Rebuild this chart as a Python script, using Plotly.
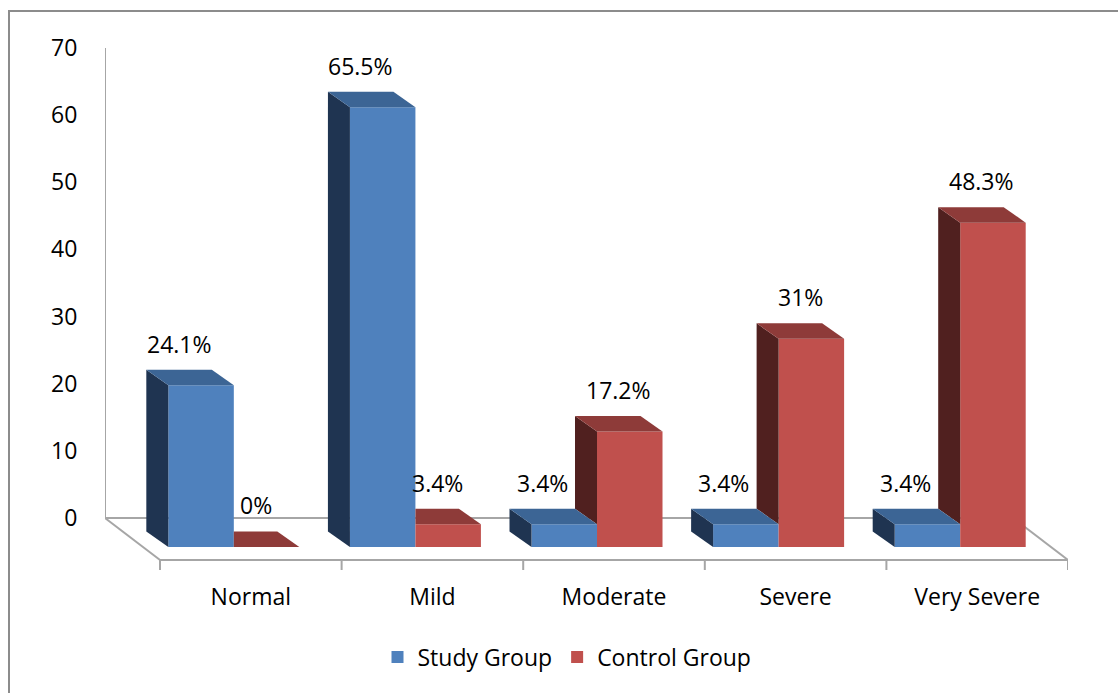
import plotly.graph_objects as go

# ---------------- data ----------------
categories = ["Normal", "Mild", "Moderate", "Severe", "Very Severe"]
study_values = [24.1, 65.5, 3.4, 3.4, 3.4]
control_values = [0, 3.4, 17.2, 31, 48.3]
study_labels = ["24.1%", "65.5%", "3.4%", "3.4%", "3.4%"]
control_labels = ["0%", "3.4%", "17.2%", "31%", "48.3%"]
y_ticks = [0, 10, 20, 30, 40, 50, 60, 70]

# ---------------- layout constants ----------------
W, H = 1118, 693
ML, MR, MT, MB = 105, 50, 48, 123
n = len(categories)
X_MIN, X_MAX = -0.5 - 0.303, n - 0.5
Y_MIN, Y_MAX = -7.75, 70
PX = (W - ML - MR) / (X_MAX - X_MIN)    # px per category unit
PY = (H - MT - MB) / (Y_MAX - Y_MIN)    # px per value unit

FLOOR_FRONT = -42 / PY          # front edge of the floor
FLOOR_DX = -0.303               # back edge shift (category units)
BAR_BASE = -29 / PY             # front face bottom of bars
BAR_W = 65.5 / PX
PAIR_OFF = -17 / PX
DX = -22 / PX                   # depth shift of bar back face
DY = 15.5 / PY
LABEL_GAP = 26 / PY

study_cols = dict(front="#4F81BD", top="#3C6595", side="#1F3451")
control_cols = dict(front="#C0504D", top="#8E3B39", side="#50201F")
GRAY = "#A6A6A6"

FONT = "Open Sans"
FS = 23

fig = go.Figure()


def poly(xs, ys, color):
    fig.add_trace(go.Scatter(
        x=xs + [xs[0]], y=ys + [ys[0]], fill="toself", fillcolor=color,
        mode="lines", line=dict(width=0, color=color),
        showlegend=False, hoverinfo="skip"))


study_x = [i + PAIR_OFF - BAR_W / 2 for i in range(n)]
control_x = [i + PAIR_OFF + BAR_W / 2 for i in range(n)]

# control group (behind the study group where they touch)
for i in range(n):
    x0 = control_x[i] - BAR_W / 2
    x1 = control_x[i] + BAR_W / 2
    hr = BAR_BASE + control_values[i]
    hb = BAR_BASE + study_values[i]
    if hr > hb:
        poly([x0, x0, x0 + DX, x0 + DX], [hb, hr, hr + DY, hb + DY], control_cols["side"])
        poly([x0, x1, x1 + DX, x0 + DX], [hr, hr, hr + DY, hr + DY], control_cols["top"])
    else:
        poly([x0, x1, x1 + DX, x0], [hr, hr, hr + DY, hr + DY], control_cols["top"])

# study group
for i in range(n):
    x0 = study_x[i] - BAR_W / 2
    x1 = study_x[i] + BAR_W / 2
    hb = BAR_BASE + study_values[i]
    poly([x0, x0, x0 + DX, x0 + DX], [BAR_BASE, hb, hb + DY, BAR_BASE + DY], study_cols["side"])
    poly([x0, x1, x1 + DX, x0 + DX], [hb, hb, hb + DY, hb + DY], study_cols["top"])

# front faces
fig.add_trace(go.Bar(x=study_x, y=study_values, base=[BAR_BASE] * n, width=BAR_W,
                     marker=dict(color=study_cols["front"], line=dict(width=0)),
                     name="Study Group", hoverinfo="skip"))
fig.add_trace(go.Bar(x=control_x, y=control_values, base=[BAR_BASE] * n, width=BAR_W,
                     marker=dict(color=control_cols["front"], line=dict(width=0)),
                     name="Control Group", hoverinfo="skip"))

# floor outline, tick marks, y axis line (drawn beneath the bars)
floor_pts = [(X_MIN, 0), (-0.5, FLOOR_FRONT), (n - 0.5, FLOOR_FRONT),
             (n - 0.5 + FLOOR_DX, 0), (X_MIN, 0)]
for (ax, ay), (bx, by) in zip(floor_pts[:-1], floor_pts[1:]):
    fig.add_shape(type="line", x0=ax, y0=ay, x1=bx, y1=by, layer="below",
                  line=dict(color=GRAY, width=2))
for i in range(n + 1):
    fig.add_shape(type="line", x0=i - 0.5, y0=FLOOR_FRONT, x1=i - 0.5, y1=Y_MIN,
                  layer="below", line=dict(color=GRAY, width=2))
fig.add_shape(type="line", x0=X_MIN, y0=0, x1=X_MIN, y1=max(y_ticks),
              layer="below", line=dict(color=GRAY, width=2))

# data labels
for i in range(n):
    fig.add_annotation(x=study_x[i] + DX, y=BAR_BASE + study_values[i] + DY + LABEL_GAP,
                       text=study_labels[i], showarrow=False,
                       font=dict(family=FONT, size=FS, color="#000"))
    fig.add_annotation(x=control_x[i] + DX / 2, y=BAR_BASE + control_values[i] + DY + LABEL_GAP,
                       text=control_labels[i], showarrow=False,
                       font=dict(family=FONT, size=FS, color="#000"))

# outer border (only top & left visible)
fig.add_shape(type="rect", xref="paper", yref="paper",
              x0=(9 - ML) / (W - ML - MR), x1=(W + 20 - ML) / (W - ML - MR),
              y0=-(H + 20 - (H - MB)) / (H - MT - MB),
              y1=((H - MB) - 11) / (H - MT - MB),
              line=dict(color="#8C8C8C", width=2))

fig.update_layout(
    width=W, height=H, autosize=False,
    margin=dict(l=ML, r=MR, t=MT, b=MB),
    paper_bgcolor="white", plot_bgcolor="white",
    barmode="overlay",
    font=dict(family=FONT, size=FS, color="#000"),
    xaxis=dict(range=[X_MIN, X_MAX], tickmode="array",
               tickvals=list(range(n)), ticktext=categories,
               showgrid=False, zeroline=False, showline=False,
               ticks="outside", ticklen=6, tickcolor="rgba(0,0,0,0)",
               tickfont=dict(family=FONT, size=FS)),
    yaxis=dict(range=[Y_MIN, Y_MAX], tickmode="array", tickvals=y_ticks,
               showgrid=False, zeroline=False, showline=False,
               ticks="outside", ticklen=22, tickcolor="rgba(0,0,0,0)",
               tickfont=dict(family=FONT, size=FS)),
    legend=dict(orientation="h", x=(567 - ML) / (W - ML - MR), xanchor="center",
                y=-87 / (H - MT - MB), yanchor="middle",
                font=dict(family=FONT, size=FS), traceorder="normal",
                itemwidth=30),
    showlegend=True,
)

fig.write_html("out.html")
